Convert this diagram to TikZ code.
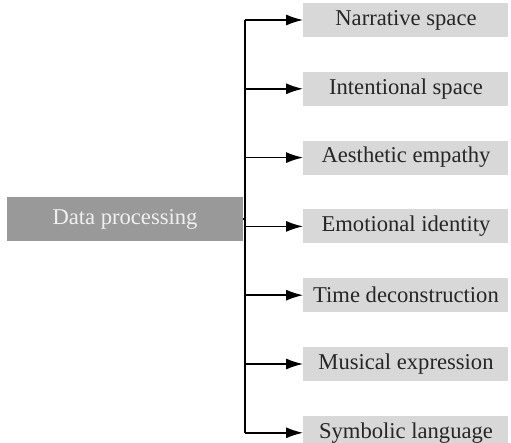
\documentclass[tikz,border=0pt]{standalone}
\usepackage{fontspec}
\setmainfont{Liberation Serif}
\usepackage{tikz}
\usepackage{xcolor}
\usetikzlibrary{arrows.meta, positioning}
\definecolor{srcgray}{HTML}{999999}
\definecolor{leafgray}{HTML}{D8D8D8}

\begin{document}
\begin{tikzpicture}[
        x=1pt, y=1pt,
        source/.style={rectangle, fill=srcgray, text=white!94!black, align=center,
                    minimum height=22pt, minimum width=118pt, inner sep=0pt,
                    font=\fontsize{11.3}{13}\selectfont},
        leaf/.style={rectangle, fill=leafgray, text=black!85, align=center,
                    minimum height=17pt, minimum width=102.5pt, inner sep=0pt,
                    font=\fontsize{11.3}{13}\selectfont},
        line/.style={-{Latex[length=8.5pt, width=5.5pt]}, line width=0.75pt},
        trunkline/.style={line width=0.75pt}
    ]
    \useasboundingbox (0,0) rectangle (255.5,-221.5);
    \node [source] (data) at (62.5,-109.5) {Data processing};
    \node [leaf] (narr) at (203,-10) {Narrative space};
    \node [leaf, below=17pt of narr] (inten) {Intentional space};
    \node [leaf, below=17pt of inten] (aest) {Aesthetic empathy};
    \node [leaf, below=17pt of aest] (emot) {Emotional identity};
    \node [leaf, below=17pt of emot] (time) {Time deconstruction};
    \node [leaf, below=17pt of time] (music) {Musical expression};
    \node [leaf, below=17pt of music] (symb) {Symbolic language};
    \coordinate (trunk) at (122.5,0);
    \draw[trunkline] (trunk |- narr) -- (trunk |- symb);
    \draw[trunkline] (data.east) -- (trunk |- data);
    \draw[line] (trunk |- narr)  -- (narr.west);
    \draw[line] (trunk |- inten) -- (inten.west);
    \draw[line] (trunk |- aest)  -- (aest.west);
    \draw[line] (trunk |- emot)  -- (emot.west);
    \draw[line] (trunk |- time)  -- (time.west);
    \draw[line] (trunk |- music) -- (music.west);
    \draw[line] (trunk |- symb)  -- (symb.west);
  \end{tikzpicture}
\end{document}
